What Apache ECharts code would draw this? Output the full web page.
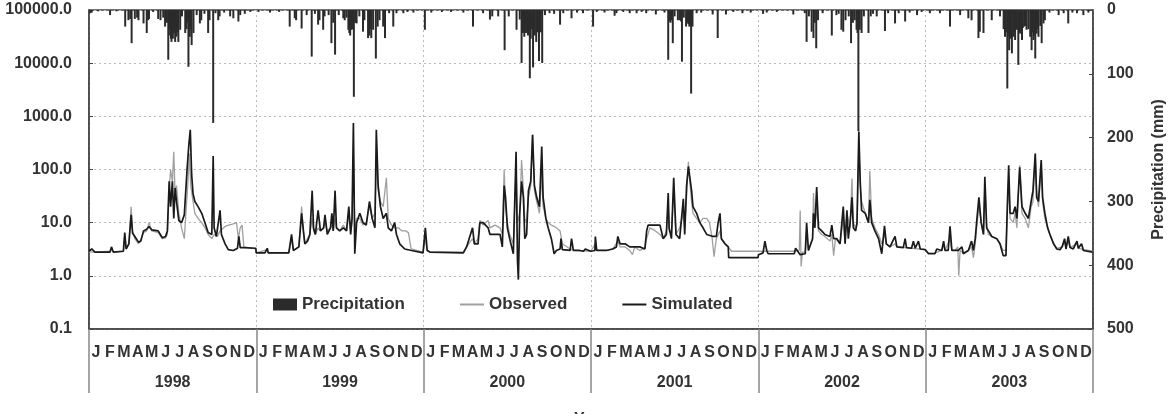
<!DOCTYPE html>
<html><head><meta charset="utf-8">
<script src="https://cdn.jsdelivr.net/npm/echarts@6/dist/echarts.min.js"></script>
<style>html,body{margin:0;padding:0;background:#fff}#c{width:1176px;height:414px}</style>
</head><body><div id="c"></div>
<script>
// ---- categories / ticks ----
const years = ['1998','1999','2000','2001','2002','2003'];
const yearDays = [365,365,366,365,365,365];
const monthLetters = ['J','F','M','A','M','J','J','A','S','O','N','D'];
const precipTicks = [0,100,200,300,400,500];

// ---- simulated discharge, [day of year, value] ----
const sim1998 = [[0,2.9],[6,3.2],[13,2.8],[46,2.8],[49,3.5],[53,2.8],[75,2.9],[78,6.5],[81,3.2],[87,4],[92,14],[95,6.4],[100,5.5],[108,4.3],[113,4.5],[119,7],[126,7.5],[131,8.5],[137,7.3],[151,7],[160,5.2],[167,5.5],[171,7],[175,60],[178,20],[182,60],[185,12],[188,45],[191,25],[196,11],[202,10],[208,14],[214,100],[218,300],[221,560],[224,80],[227,35],[231,25],[238,20],[246,15],[253,10],[260,6.5],[268,6],[271,180],[273,8],[278,5.5],[282,5.5],[286,17],[289,6],[297,4],[304,3.1],[315,3],[324,3.3],[327,5.5],[330,3.4],[337,3.4],[364,3.3]];
const sim1999 = [[0,2.7],[19,2.7],[24,3.3],[26,2.7],[71,2.7],[77,6],[81,3],[93,3.5],[99,15],[103,7],[106,4],[112,4.5],[117,6],[122,40],[125,8],[129,6],[135,17],[140,7],[147,8],[150,14],[155,6],[162,8],[165,15],[168,7],[172,40],[175,8],[182,7],[190,8],[197,7],[202,20],[206,6],[209,12],[212,750],[215,2.6],[219,10],[226,15],[233,10],[240,9],[247,25],[253,12],[259,8],[262,560],[266,50],[271,20],[277,12],[284,15],[288,8],[295,7],[302,10],[306,6],[313,4],[324,3.2],[339,3],[364,2.7]];
const sim2000 = [[0,2.8],[2,2.8],[4,8],[8,3],[14,2.8],[87,2.7],[94,3.5],[107,8],[111,4],[119,4],[123,10],[130,10],[141,8],[145,6],[156,6],[167,6],[172,3.5],[176,50],[179,30],[183,8],[188,5],[196,2.6],[202,215],[205,2],[207,0.85],[210,15],[214,60],[218,30],[221,5],[225,6],[229,40],[234,60],[238,450],[242,50],[247,30],[253,20],[258,270],[261,30],[267,12],[272,8],[279,5],[285,2.6],[290,3],[298,3.2],[300,5],[303,3.1],[320,3],[323,5],[327,3],[341,3],[349,2.9],[353,3.2],[365,2.9]];
const sim2001 = [[0,2.9],[8,3],[9,5.5],[12,3],[33,3],[47,3.2],[55,3.5],[58,5.5],[63,4],[74,4],[84,3.5],[95,3.5],[106,3.5],[117,3.2],[121,7],[124,9],[150,9],[157,5],[164,6],[168,36],[170,8],[175,5],[180,70],[185,6],[193,5],[201,28],[204,6],[208,48],[212,114],[215,110],[219,40],[222,20],[230,15],[237,10],[244,8],[252,6],[266,5.5],[273,5.5],[277,10],[281,15],[284,5],[292,4],[299,3.5],[300,2.2],[364,2.2]];
const sim2002 = [[0,2.5],[10,2.7],[14,4.5],[18,3],[21,2.6],[78,2.6],[81,3.3],[91,2.5],[102,2.6],[105,10],[109,3],[118,5],[120,15],[123,8],[127,47],[131,8],[138,7],[145,6],[156,5.5],[160,9],[164,5],[171,5],[178,4],[185,20],[189,4],[193,17],[196,5],[200,10],[204,30],[207,8],[212,7],[215,10],[219,520],[222,60],[225,17],[233,15],[240,10],[243,27],[247,10],[254,7],[262,5],[269,2.6],[275,8.7],[279,4],[287,3.5],[298,5.5],[302,3.5],[316,3.4],[320,5],[323,3.4],[334,3.3],[338,4.5],[342,3.3],[349,4.5],[353,3.2],[364,3.1]];
const sim2003 = [[0,3],[6,2.6],[20,2.6],[24,3.2],[35,3],[39,4.5],[42,3],[49,3],[53,8.5],[57,3],[64,3],[71,3],[79,3.5],[82,2.6],[93,3],[100,4.5],[104,3],[108,5],[111,10],[116,30],[121,10],[126,6],[129,73],[133,8],[137,7],[144,5.5],[155,5],[162,4],[169,2.4],[175,2.4],[178,20],[181,120],[184,15],[191,15],[195,20],[199,12],[205,110],[210,20],[217,15],[224,12],[230,25],[234,40],[239,200],[242,30],[246,25],[252,150],[255,30],[260,15],[266,8],[271,6],[279,4],[286,3.2],[293,3.1],[298,3.6],[303,5],[306,3.2],[311,5.5],[315,3.4],[322,3.2],[330,4.5],[333,3.3],[340,4],[344,3],[364,2.8]];

// ---- observed discharge, [day of year, value] ----
const obs1998 = [[0,2.8],[13,2.8],[46,2.9],[49,3.3],[53,2.8],[75,2.9],[78,5.5],[81,3.3],[87,4],[92,20],[95,7],[100,5],[108,4],[113,4.8],[119,6.5],[126,7],[131,10],[137,7],[151,6.5],[160,5],[167,5.2],[171,6],[175,40],[178,100],[182,60],[185,215],[188,30],[191,50],[196,15],[202,8],[208,5],[212,5],[216,60],[219,200],[222,50],[227,25],[231,15],[238,12],[246,10],[253,8],[260,6],[268,5],[273,6],[280,5.5],[286,7],[290,7.5],[297,8.5],[305,9],[315,9.5],[322,10],[326,5],[330,8],[334,9],[338,3.5],[364,3.2]];
const obs1999 = [[0,2.7],[24,3.1],[26,2.7],[71,2.7],[77,5],[81,3],[93,3.5],[99,20],[103,6],[106,4],[112,5],[117,6],[122,12],[125,7],[129,6],[135,8],[140,7],[147,8],[150,10],[155,7],[162,8],[165,9],[168,7],[172,12],[175,8],[182,7],[190,9],[197,7],[202,15],[206,7],[209,10],[212,200],[215,8],[219,12],[226,12],[233,9],[240,10],[247,20],[253,12],[259,15],[262,150],[266,40],[271,25],[277,20],[284,70],[288,12],[295,9],[302,8],[310,8],[318,7],[326,7],[332,6.5],[338,3.2],[364,2.8]];
const obs2000 = [[0,2.8],[4,5],[8,3],[14,2.8],[87,2.8],[94,3.5],[107,5],[111,4],[119,5],[123,11],[130,9],[141,11],[145,8],[156,9],[167,8],[172,6],[176,100],[179,20],[183,10],[188,6],[196,4],[202,100],[205,10],[210,15],[214,150],[218,40],[221,12],[225,10],[229,30],[234,50],[238,450],[242,40],[247,25],[253,15],[258,80],[261,20],[267,12],[272,10],[279,9],[285,8.5],[290,8],[298,7],[303,4],[320,3.2],[327,3],[365,2.9]];
const obs2001 = [[0,2.9],[9,4],[12,3],[33,3],[47,3.2],[58,4.5],[63,3.5],[74,3.5],[84,3],[90,2.5],[95,3.5],[106,3],[117,3.3],[121,5],[128,8],[140,7],[150,6],[157,5],[164,7],[168,20],[170,7],[175,6],[180,40],[185,6],[193,8],[201,15],[204,8],[208,30],[212,140],[215,60],[219,25],[222,15],[230,12],[237,10],[244,12],[252,12],[258,10],[264,5],[268,2.3],[273,5],[281,7],[284,5],[292,4],[299,3.5],[306,2.9],[364,2.9]];
const obs2002 = [[0,2.9],[21,2.9],[78,2.9],[81,3],[89,3],[91,17],[93,1.5],[96,2.8],[102,2.8],[105,6],[109,3],[118,5],[120,36],[123,8],[127,20],[131,7],[138,6],[145,5.5],[156,4.5],[160,6],[164,2.4],[168,5],[178,4],[185,12],[189,4],[193,15],[200,8],[204,68],[207,10],[212,8],[215,9],[219,300],[222,50],[225,25],[233,15],[240,10],[243,95],[247,12],[254,8],[262,6],[269,4],[275,6],[279,4],[287,3.5],[298,4],[302,3.5],[364,3.1]];
const obs2003 = [[0,3],[6,2.7],[20,2.7],[35,3],[39,4],[42,3],[53,5],[57,3],[64,3],[70,3.5],[72,1.0],[75,3],[82,2.7],[93,3],[100,3.5],[104,2.2],[108,4],[111,8],[116,20],[121,10],[126,6],[129,50],[133,8],[137,6],[144,5.5],[155,5],[162,4],[169,3],[175,3],[178,15],[181,60],[184,12],[191,10],[195,15],[199,8],[205,120],[210,15],[217,12],[224,8],[230,20],[234,25],[239,200],[242,40],[246,20],[252,120],[255,25],[260,12],[266,8],[271,6],[279,4],[286,3.3],[298,3.5],[303,4.5],[306,3.3],[311,4.5],[315,3.4],[330,4],[333,3.3],[364,2.9]];

// ---- precipitation (mm), [day of year, mm] ----
const rain1998 = [[3,5],[6,4],[20,2],[46,8],[60,2],[79,26],[86,16],[90,14],[93,52],[100,14],[105,12],[108,16],[119,21],[126,36],[129,16],[131,14],[140,3],[151,14],[156,16],[162,12],[166,26],[170,20],[173,78],[175,30],[177,40],[179,45],[180,50],[182,38],[183,45],[185,30],[186,36],[188,50],[190,42],[191,40],[193,35],[195,50],[199,31],[203,10],[210,36],[213,30],[215,20],[217,89],[220,42],[222,30],[224,55],[228,36],[235,8],[242,21],[245,16],[252,6],[260,36],[263,16],[271,177],[276,5],[282,16],[285,10],[295,4],[308,10],[315,13],[326,18],[330,8],[340,6],[352,3]];
const rain1999 = [[5,3],[30,4],[50,3],[73,26],[84,13],[87,16],[99,29],[110,8],[121,73],[128,6],[135,23],[138,16],[146,31],[149,10],[158,8],[164,52],[168,20],[172,70],[180,8],[190,13],[193,16],[197,12],[201,31],[203,36],[205,40],[207,28],[208,31],[210,30],[213,136],[216,20],[219,21],[225,10],[233,34],[236,16],[244,44],[246,35],[247,40],[249,30],[251,44],[255,31],[261,76],[265,26],[269,16],[277,26],[281,44],[290,5],[299,26],[306,5],[321,5],[330,3],[343,4]];
const rain2000 = [[3,31],[17,4],[40,3],[60,3],[87,4],[108,26],[130,5],[145,15],[150,10],[163,10],[177,63],[186,10],[203,31],[210,15],[214,83],[217,36],[219,30],[220,42],[222,35],[224,36],[226,30],[228,40],[232,107],[234,45],[236,30],[239,90],[241,30],[243,40],[246,50],[249,35],[252,80],[256,35],[259,83],[265,8],[275,5],[285,6],[298,23],[305,5],[323,13],[335,4],[348,5]];
const rain2001 = [[4,26],[12,3],[29,4],[51,9],[55,5],[70,3],[84,5],[99,5],[110,3],[120,5],[141,7],[160,4],[168,78],[170,15],[172,18],[173,20],[176,16],[178,52],[182,10],[189,16],[193,16],[196,18],[198,81],[202,12],[207,26],[210,20],[212,22],[214,26],[216,24],[218,131],[221,26],[230,5],[240,4],[265,7],[276,44],[294,7],[310,3],[330,5],[348,4]];
const rain2002 = [[10,6],[18,4],[40,3],[76,7],[101,5],[105,50],[110,10],[116,34],[120,44],[123,20],[126,60],[130,16],[140,5],[160,40],[170,8],[175,6],[181,31],[185,34],[190,16],[197,10],[202,52],[206,20],[210,16],[214,31],[216,36],[218,190],[220,25],[221,31],[225,36],[230,10],[240,36],[245,10],[250,6],[258,10],[276,33],[283,5],[298,21],[306,5],[320,18],[330,4],[346,8],[356,3]];
const rain2003 = [[9,5],[31,5],[53,26],[75,8],[93,13],[100,16],[115,44],[118,34],[126,36],[144,16],[162,10],[170,30],[173,42],[175,35],[178,123],[180,40],[182,63],[185,45],[188,68],[191,42],[193,35],[195,47],[197,30],[199,31],[202,86],[204,35],[206,37],[208,30],[210,47],[212,28],[215,26],[218,25],[220,31],[224,30],[228,42],[231,63],[233,35],[235,47],[237,40],[239,76],[242,37],[244,30],[246,42],[250,25],[253,52],[257,21],[260,16],[270,4],[290,8],[301,5],[311,21],[320,4],[330,5],[344,8],[355,4]];

const simByYear = [sim1998, sim1999, sim2000, sim2001, sim2002, sim2003];
const obsByYear = [obs1998, obs1999, obs2000, obs2001, obs2002, obs2003];
const rainByYear = [rain1998, rain1999, rain2000, rain2001, rain2002, rain2003];

// ---- build record-day data ----
const yearStart = [];
let acc = 0;
yearDays.forEach(d => { yearStart.push(acc); acc += d; });
const totalDays = acc;
function flatten(byYear) {
  const out = [];
  byYear.forEach((arr, i) => arr.forEach(p => out.push([yearStart[i] + p[0], p[1]])));
  return out;
}
const simData = flatten(simByYear);
const obsData = flatten(obsByYear);
const rainData = flatten(rainByYear);
const monthCats = [];
years.forEach(y => monthLetters.forEach(m => monthCats.push(m)));

const FONT = 'Liberation Sans, Arial, sans-serif';
const labelStyle = { fontFamily: FONT, fontWeight: 'bold', fontSize: 16, color: '#333' };
const LINE_ICON = 'path://M0,0 L24,0 L24,2 L0,2 Z';

const chart = echarts.init(document.getElementById('c'), null, { renderer: 'canvas' });
chart.setOption({
  animation: false,
  backgroundColor: '#fff',
  grid: { left: 89, right: 83, top: 10, bottom: 85, show: true, borderColor: '#444', borderWidth: 1.5,
          containLabel: false, outerBoundsMode: 'none' },
  legend: {
    left: 273, top: 296, padding: 0, itemGap: 55, itemWidth: 24, itemHeight: 12, symbolKeepAspect: true,
    textStyle: { fontFamily: FONT, fontWeight: 'bold', fontSize: 17, color: '#333' },
    data: [
      { name: 'Precipitation', icon: 'rect' },
      { name: 'Observed', icon: LINE_ICON },
      { name: 'Simulated', icon: LINE_ICON }
    ]
  },
  xAxis: [
    { type: 'value', min: 0, max: totalDays, axisLine: { show: false }, axisTick: { show: false },
      axisLabel: { show: false }, splitLine: { show: false } },
    { type: 'category', data: monthCats, position: 'bottom', boundaryGap: true,
      axisLine: { show: false }, axisTick: { show: false },
      axisLabel: Object.assign({ interval: 0, margin: 16 }, labelStyle), splitLine: { show: false } },
    { type: 'category', data: years, position: 'bottom', boundaryGap: true,
      axisLine: { show: true, lineStyle: { color: '#444', width: 1.5 } },
      axisTick: { show: true, interval: 0, length: 64, lineStyle: { color: '#888', width: 1.5 } },
      axisLabel: Object.assign({ interval: 0, margin: 46 }, labelStyle),
      splitLine: { show: true, interval: 0, lineStyle: { color: '#bbb', type: [2, 3], width: 1 } },
      name: 'Year', nameLocation: 'middle', nameGap: 83, nameTextStyle: labelStyle }
  ],
  yAxis: [
    { type: 'log', logBase: 10, min: 0.1, max: 100000, interval: 1, position: 'left',
      axisLine: { show: true, lineStyle: { color: '#444', width: 1.5 } },
      axisTick: { show: true, inside: true, length: 4, lineStyle: { color: '#444' } },
      axisLabel: Object.assign({ margin: 17, formatter: v => Number(v).toFixed(1) }, labelStyle),
      splitLine: { show: true, lineStyle: { color: '#bbb', type: [2, 3], width: 1 } } },
    { type: 'value', min: precipTicks[0], max: precipTicks[precipTicks.length - 1], interval: 100,
      inverse: true, position: 'right',
      axisLine: { show: true, lineStyle: { color: '#444', width: 1.5 } },
      axisTick: { show: true, inside: true, length: 4, lineStyle: { color: '#444' } },
      axisLabel: Object.assign({ margin: 14 }, labelStyle),
      splitLine: { show: false },
      name: 'Precipitation (mm)', nameLocation: 'middle', nameGap: 58, nameRotate: 90,
      nameTextStyle: labelStyle }
  ],
  series: [
    { name: 'Precipitation', type: 'bar', xAxisIndex: 0, yAxisIndex: 1, data: rainData,
      barWidth: 2, itemStyle: { color: '#2b2b2b' } },
    { name: 'Observed', type: 'line', xAxisIndex: 0, yAxisIndex: 0, data: obsData,
      symbol: 'none', showSymbol: false, lineStyle: { color: '#a0a0a0', width: 1.3 }, itemStyle: { color: '#a0a0a0' } },
    { name: 'Simulated', type: 'line', xAxisIndex: 0, yAxisIndex: 0, data: simData,
      symbol: 'none', showSymbol: false, lineStyle: { color: '#1a1a1a', width: 1.7 }, itemStyle: { color: '#1a1a1a' } }
  ]
});
</script></body></html>
